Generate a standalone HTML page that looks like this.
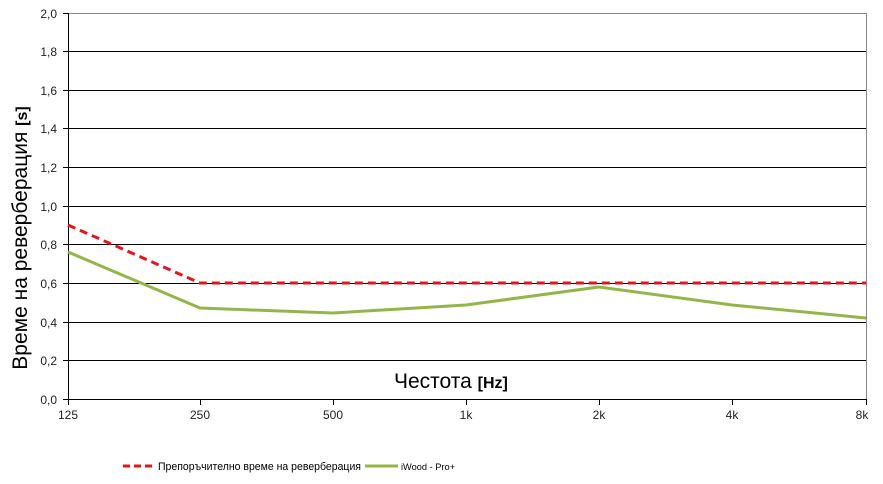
<!DOCTYPE html>
<html><head><meta charset="utf-8"><style>
html,body{margin:0;padding:0;background:#fff;}
svg{display:block;font-family:"Liberation Sans",Arial,sans-serif;}
</style></head><body>
<svg width="883" height="484" viewBox="0 0 883 484" xmlns="http://www.w3.org/2000/svg">
<rect width="883" height="484" fill="#fff"/>
<g stroke="#000" stroke-width="1">
<line x1="68" y1="51.5" x2="866" y2="51.5"/>
<line x1="68" y1="90.5" x2="866" y2="90.5"/>
<line x1="68" y1="128.5" x2="866" y2="128.5"/>
<line x1="68" y1="167.5" x2="866" y2="167.5"/>
<line x1="68" y1="206.5" x2="866" y2="206.5"/>
<line x1="68" y1="244.5" x2="866" y2="244.5"/>
<line x1="68" y1="283.5" x2="866" y2="283.5"/>
<line x1="68" y1="322.5" x2="866" y2="322.5"/>
<line x1="68" y1="360.5" x2="866" y2="360.5"/>
</g>
<line x1="68" y1="13.5" x2="866" y2="13.5" stroke="#888"/>
<line x1="866.5" y1="13" x2="866.5" y2="399" stroke="#888"/>
<g stroke="#000" stroke-width="1">
<line x1="68.5" y1="13" x2="68.5" y2="400"/>
<line x1="68" y1="399.5" x2="866" y2="399.5"/>
<line x1="63" y1="13.5" x2="68" y2="13.5"/><line x1="63" y1="51.5" x2="68" y2="51.5"/>
<line x1="63" y1="90.5" x2="68" y2="90.5"/><line x1="63" y1="128.5" x2="68" y2="128.5"/>
<line x1="63" y1="167.5" x2="68" y2="167.5"/><line x1="63" y1="206.5" x2="68" y2="206.5"/>
<line x1="63" y1="244.5" x2="68" y2="244.5"/><line x1="63" y1="283.5" x2="68" y2="283.5"/>
<line x1="63" y1="322.5" x2="68" y2="322.5"/><line x1="63" y1="360.5" x2="68" y2="360.5"/>
<line x1="63" y1="399.5" x2="68" y2="399.5"/>
<line x1="68.5" y1="399" x2="68.5" y2="405"/><line x1="200.5" y1="399" x2="200.5" y2="405"/>
<line x1="333.5" y1="399" x2="333.5" y2="405"/><line x1="466.5" y1="399" x2="466.5" y2="405"/>
<line x1="599.5" y1="399" x2="599.5" y2="405"/><line x1="732.5" y1="399" x2="732.5" y2="405"/>
<line x1="866.5" y1="399" x2="866.5" y2="405"/>
</g>
<g font-size="12" fill="#222" text-anchor="end">
<text x="57" y="18">2,0</text><text x="57" y="56">1,8</text><text x="57" y="95">1,6</text>
<text x="57" y="133">1,4</text><text x="57" y="172">1,2</text><text x="57" y="211">1,0</text>
<text x="57" y="249">0,8</text><text x="57" y="288">0,6</text><text x="57" y="327">0,4</text>
<text x="57" y="365">0,2</text><text x="57" y="404">0,0</text>
</g>
<g font-size="12" fill="#222" text-anchor="middle">
<text x="68" y="419">125</text><text x="200" y="419">250</text><text x="333" y="419">500</text>
<text x="466" y="419">1k</text><text x="599" y="419">2k</text><text x="732" y="419">4k</text>
<text x="862" y="419">8k</text>
</g>
<text transform="translate(27,238) rotate(-90)" text-anchor="middle" font-size="21" fill="#000">Време на реверберация <tspan font-weight="bold" font-size="16">[s]</tspan></text>
<text x="394" y="388" font-size="21" fill="#000">Честота <tspan font-weight="bold" font-size="16">[Hz]</tspan></text>
<polyline points="68,252 200,308 333,313 466,305 599,287 732,305 866,318" fill="none" stroke="#93b54a" stroke-width="3" stroke-linejoin="round"/>
<polyline points="68,225 200,283 866,283" fill="none" stroke="#e8141c" stroke-width="3" stroke-dasharray="8,5"/>
<line x1="123" y1="466" x2="154" y2="466" stroke="#e8141c" stroke-width="3" stroke-dasharray="7,4"/>
<text x="158" y="470" font-size="11" fill="#000" textLength="203" lengthAdjust="spacingAndGlyphs">Препоръчително време на реверберация</text>
<line x1="365" y1="466" x2="398" y2="466" stroke="#93b54a" stroke-width="3"/>
<text x="401" y="470" font-size="9" fill="#000" textLength="54" lengthAdjust="spacingAndGlyphs">iWood - Pro+</text>
</svg>
</body></html>
